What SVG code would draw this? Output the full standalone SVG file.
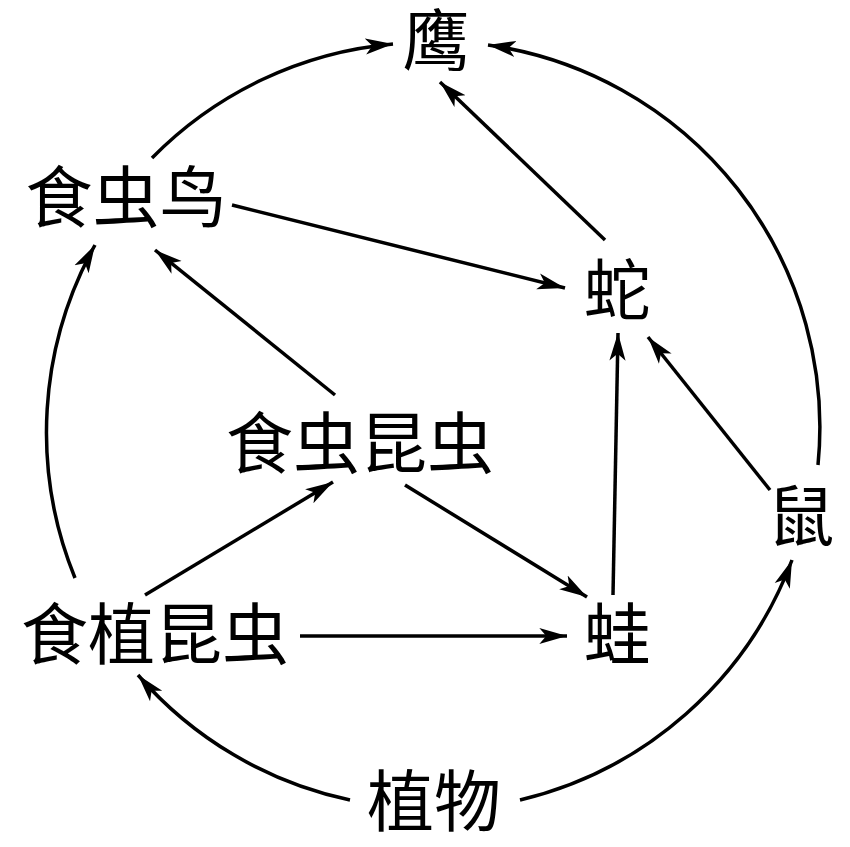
<svg xmlns="http://www.w3.org/2000/svg" width="850" height="847" viewBox="0 0 850 847">
<defs>
<style>
text{font-family:"Liberation Serif","Noto Sans CJK SC",serif;font-size:67px;fill:#000;text-anchor:middle;dominant-baseline:central}
.c path,.c line{stroke:#000;stroke-width:3.5;fill:none;marker-end:url(#ah)}
</style>
<marker id="ah" markerUnits="userSpaceOnUse" markerWidth="30" markerHeight="20" viewBox="-24 -8 26 16" refX="0" refY="0" orient="auto">
<path d="M0,0 L-24,-7 L-18,0 L-24,7 Z" fill="#000"/>
</marker>
</defs>
<rect width="850" height="847" fill="#fff"/>
<g class="c" id="connectors">
<path d="M152,158 A386,386 0 0 1 393,44"/>
<path d="M818,465 A386,386 0 0 0 488,45"/>
<path d="M75,578 A386,386 0 0 1 95,245"/>
<path d="M350,800 A386,386 0 0 1 138,675"/>
<path d="M520,800 A386,386 0 0 0 792,560"/>
<line x1="605" y1="240" x2="440" y2="82"/>
<line x1="232" y1="205" x2="565" y2="288"/>
<line x1="335" y1="395" x2="155" y2="250"/>
<line x1="145" y1="595" x2="333" y2="482"/>
<line x1="405" y1="485" x2="587" y2="597"/>
<line x1="300" y1="636" x2="567" y2="636"/>
<line x1="613" y1="595" x2="618" y2="333"/>
<line x1="770" y1="490" x2="648" y2="337"/>
</g>
<g id="n-ying"><text x="436" y="42">鹰</text></g>
<g id="n-shichongniao"><text x="126" y="199">食虫鸟</text></g>
<g id="n-she"><text x="617" y="292">蛇</text></g>
<g id="n-shichongkunchong"><text x="360" y="445">食虫昆虫</text></g>
<g id="n-shizhikunchong"><text x="155" y="636">食植昆虫</text></g>
<g id="n-wa"><text x="617" y="636">蛙</text></g>
<g id="n-shu"><text x="801" y="518">鼠</text></g>
<g id="n-zhiwu"><text x="434" y="803">植物</text></g>
</svg>
